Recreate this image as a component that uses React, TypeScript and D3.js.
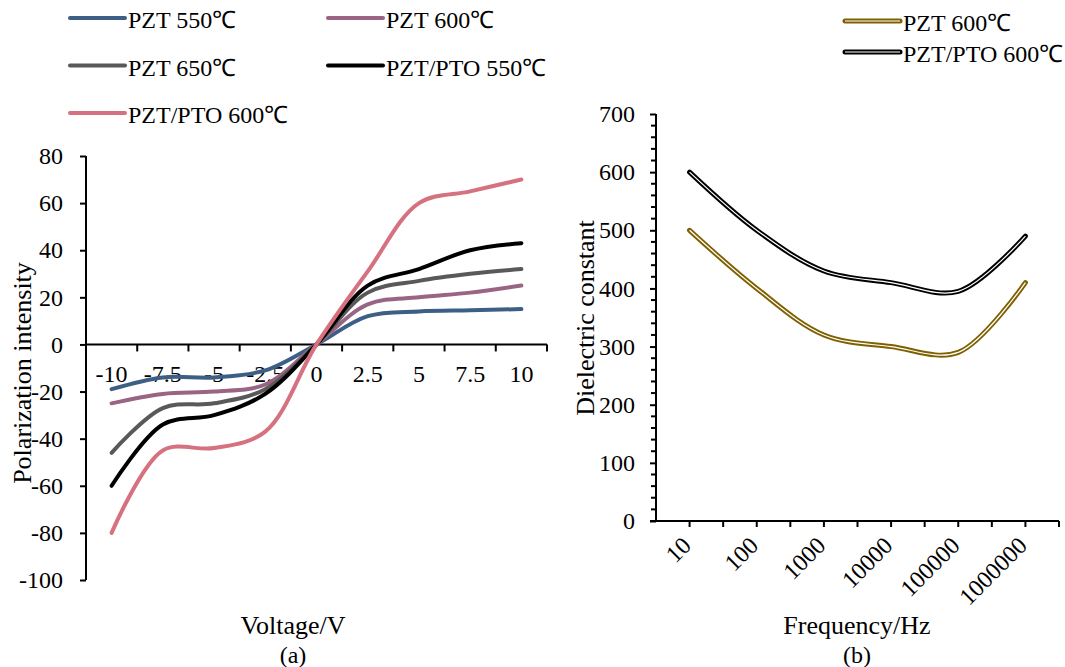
import React, { useRef, useEffect } from "react";
import * as d3 from "d3";

// (a) polarization vs voltage
const voltages = ["-10", "-7.5", "-5", "-2.5", "0", "2.5", "5", "7.5", "10"];
const pzt550 = [-19, -14, -14, -11, 0, 12, 14, 14.5, 15];
const pzt600 = [-25, -21, -20, -17, 0, 17, 20, 22, 25];
const pzt650 = [-46, -27, -25, -19, 0, 22, 27, 30, 32];
const ptoPzt550 = [-60, -34, -30, -21, 0, 25, 32, 40, 43];
const ptoPzt600 = [-80, -45, -44, -37, 0, 31, 60, 65, 70];
const polTicks = [-100, -80, -60, -40, -20, 0, 20, 40, 60, 80];

// (b) dielectric constant vs frequency
const frequencies = ["10", "100", "1000", "10000", "100000", "1000000"];
const dielPzt600 = [500, 400, 320, 300, 290, 410];
const dielPto600 = [600, 500, 430, 410, 395, 490];
const dielTicks = [0, 100, 200, 300, 400, 500, 600, 700];

const FONT = "'Times New Roman', 'Liberation Serif', serif";

const polSeries = [
  { name: "PZT 550℃", color: "#3D5F85", values: pzt550 },
  { name: "PZT 600℃", color: "#9A6583", values: pzt600 },
  { name: "PZT 650℃", color: "#595959", values: pzt650 },
  { name: "PZT/PTO 550℃", color: "#000000", values: ptoPzt550 },
  { name: "PZT/PTO 600℃", color: "#D6717F", values: ptoPzt600 },
];

const dielSeries = [
  { name: "PZT 600℃", color: "#7F6000", values: dielPzt600 },
  { name: "PZT/PTO 600℃", color: "#000000", values: dielPto600 },
];

const App = () => {
  const svgRef = useRef(null);

  useEffect(() => {
    const svg = d3.select(svgRef.current);
    svg.selectAll("*").remove();
    svg.attr("font-family", FONT);

    // ---------- chart (a) ----------
    const xA = d3.scaleBand().domain(voltages).range([86, 547]);
    const yA = d3.scaleLinear().domain([-100, 80]).range([580, 156]);
    const bwA = xA.bandwidth();
    const cx = (v) => xA(v) + bwA / 2;

    const gA = svg.append("g");

    // y axis
    const yAxisA = d3
      .axisLeft(yA)
      .tickValues(polTicks)
      .tickSize(6)
      .tickPadding(17)
      .tickFormat((d) => String(d));
    gA.append("g")
      .attr("transform", "translate(86,0)")
      .call(yAxisA)
      .call((g) => g.select(".domain").attr("stroke-width", 2).attr("d", "M0,156V580"))
      .call((g) => g.selectAll(".tick line").attr("stroke-width", 2))
      .call((g) =>
        g.selectAll(".tick text").attr("font-size", 24).attr("font-family", FONT).attr("fill", "#000")
      );

    // x axis at y=0
    const y0 = yA(0);
    gA.append("line")
      .attr("x1", 86).attr("x2", 547).attr("y1", y0).attr("y2", y0)
      .attr("stroke", "#000").attr("stroke-width", 2);
    gA.selectAll(".xtickA")
      .data(voltages.slice(1).concat(["end"]))
      .enter()
      .append("line")
      .attr("x1", (d, i) => 86 + bwA * (i + 1))
      .attr("x2", (d, i) => 86 + bwA * (i + 1))
      .attr("y1", y0).attr("y2", y0 + 7)
      .attr("stroke", "#000").attr("stroke-width", 2);
    gA.selectAll(".xlabA")
      .data(voltages)
      .enter()
      .append("text")
      .attr("x", (d) => cx(d))
      .attr("y", y0 + 38)
      .attr("text-anchor", "middle")
      .attr("font-size", 24)
      .text((d) => d);

    const lineA = d3
      .line()
      .x((d, i) => cx(voltages[i]))
      .y((d) => yA(d))
      .curve(d3.curveCatmullRom.alpha(0.5));

    gA.selectAll(".polLine")
      .data(polSeries)
      .enter()
      .append("path")
      .attr("d", (s) => lineA(s.values))
      .attr("fill", "none")
      .attr("stroke", (s) => s.color)
      .attr("stroke-width", 4)
      .attr("stroke-linecap", "round");

    gA.append("text")
      .attr("transform", "translate(31,373) rotate(-90)")
      .attr("text-anchor", "middle")
      .attr("font-size", 26)
      .text("Polarization intensity");
    gA.append("text")
      .attr("x", 293).attr("y", 634)
      .attr("text-anchor", "middle").attr("font-size", 26)
      .text("Voltage/V");
    gA.append("text")
      .attr("x", 293).attr("y", 663)
      .attr("text-anchor", "middle").attr("font-size", 24)
      .text("(a)");

    // legend (a)
    const legA = gA.selectAll(".legA")
      .data(polSeries)
      .enter()
      .append("g")
      .attr("transform", (s, i) => `translate(${i % 2 === 0 ? 70 : 328},${18 + Math.floor(i / 2) * 47.5})`);
    legA.append("line")
      .attr("x1", 0).attr("x2", 55).attr("y1", 0).attr("y2", 0)
      .attr("stroke", (s) => s.color).attr("stroke-width", 4).attr("stroke-linecap", "round");
    legA.append("text")
      .attr("x", 58).attr("y", 10).attr("font-size", 24)
      .text((s) => s.name);

    // ---------- chart (b) ----------
    const xB = d3.scaleBand().domain(frequencies).range([656, 1059]);
    const yB = d3.scaleLinear().domain([0, 700]).range([521, 114]);
    const bwB = xB.bandwidth();
    const cxB = (f) => xB(f) + bwB / 2;

    const gB = svg.append("g");

    // minor ticks
    gB.selectAll(".minorB")
      .data(d3.range(0, 701, 20).filter((v) => v % 100 !== 0))
      .enter()
      .append("line")
      .attr("x1", 651).attr("x2", 656)
      .attr("y1", (d) => yB(d)).attr("y2", (d) => yB(d))
      .attr("stroke", "#000").attr("stroke-width", 2);

    const yAxisB = d3
      .axisLeft(yB)
      .tickValues(dielTicks)
      .tickSize(6)
      .tickPadding(15)
      .tickFormat((d) => String(d));
    gB.append("g")
      .attr("transform", "translate(656,0)")
      .call(yAxisB)
      .call((g) => g.select(".domain").attr("stroke-width", 2).attr("d", "M0,114V521"))
      .call((g) => g.selectAll(".tick line").attr("stroke-width", 2))
      .call((g) =>
        g.selectAll(".tick text").attr("font-size", 24).attr("font-family", FONT).attr("fill", "#000")
      );

    const yb0 = yB(0);
    gB.append("line")
      .attr("x1", 650).attr("x2", 1059).attr("y1", yb0).attr("y2", yb0)
      .attr("stroke", "#000").attr("stroke-width", 2);
    gB.selectAll(".xtickB")
      .data(d3.range(1, frequencies.length * 2 + 1))
      .enter()
      .append("line")
      .attr("x1", (k) => 656 + (bwB / 2) * k)
      .attr("x2", (k) => 656 + (bwB / 2) * k)
      .attr("y1", yb0).attr("y2", yb0 + 6)
      .attr("stroke", "#000").attr("stroke-width", 2);
    gB.selectAll(".xlabB")
      .data(frequencies)
      .enter()
      .append("text")
      .attr("transform", (f) => `translate(${cxB(f) + 3},${yb0 + 26}) rotate(-45)`)
      .attr("text-anchor", "end")
      .attr("font-size", 24)
      .text((f) => f);

    const lineB = d3
      .line()
      .x((d, i) => cxB(frequencies[i]))
      .y((d) => yB(d))
      .curve(d3.curveCatmullRom.alpha(0.5));

    const dl = gB.selectAll(".dielLine").data(dielSeries).enter().append("g");
    dl.append("path")
      .attr("d", (s) => lineB(s.values))
      .attr("fill", "none")
      .attr("stroke", (s) => s.color)
      .attr("stroke-width", 5)
      .attr("stroke-linecap", "round");
    dl.append("path")
      .attr("d", (s) => lineB(s.values))
      .attr("fill", "none")
      .attr("stroke", "#fff")
      .attr("stroke-width", 1.2);

    gB.append("text")
      .attr("transform", "translate(594,318) rotate(-90)")
      .attr("text-anchor", "middle")
      .attr("font-size", 26)
      .text("Dielectric constant");
    gB.append("text")
      .attr("x", 857).attr("y", 634)
      .attr("text-anchor", "middle").attr("font-size", 26)
      .text("Frequency/Hz");
    gB.append("text")
      .attr("x", 857).attr("y", 663)
      .attr("text-anchor", "middle").attr("font-size", 24)
      .text("(b)");

    // legend (b)
    const legB = gB.selectAll(".legB")
      .data(dielSeries)
      .enter()
      .append("g")
      .attr("transform", (s, i) => `translate(845,${21 + i * 31})`);
    legB.append("line")
      .attr("x1", 0).attr("x2", 55).attr("y1", 0).attr("y2", 0)
      .attr("stroke", (s) => s.color).attr("stroke-width", 5).attr("stroke-linecap", "round");
    legB.append("line")
      .attr("x1", 0).attr("x2", 55).attr("y1", 0).attr("y2", 0)
      .attr("stroke", "#fff").attr("stroke-width", 1.2);
    legB.append("text")
      .attr("x", 58).attr("y", 10).attr("font-size", 24)
      .text((s) => s.name);
  }, []);

  return (
    <svg
      ref={svgRef}
      width={1065}
      height={667}
      style={{ position: "absolute", left: 0, top: 0, background: "#fff" }}
    />
  );
};

export default App;
